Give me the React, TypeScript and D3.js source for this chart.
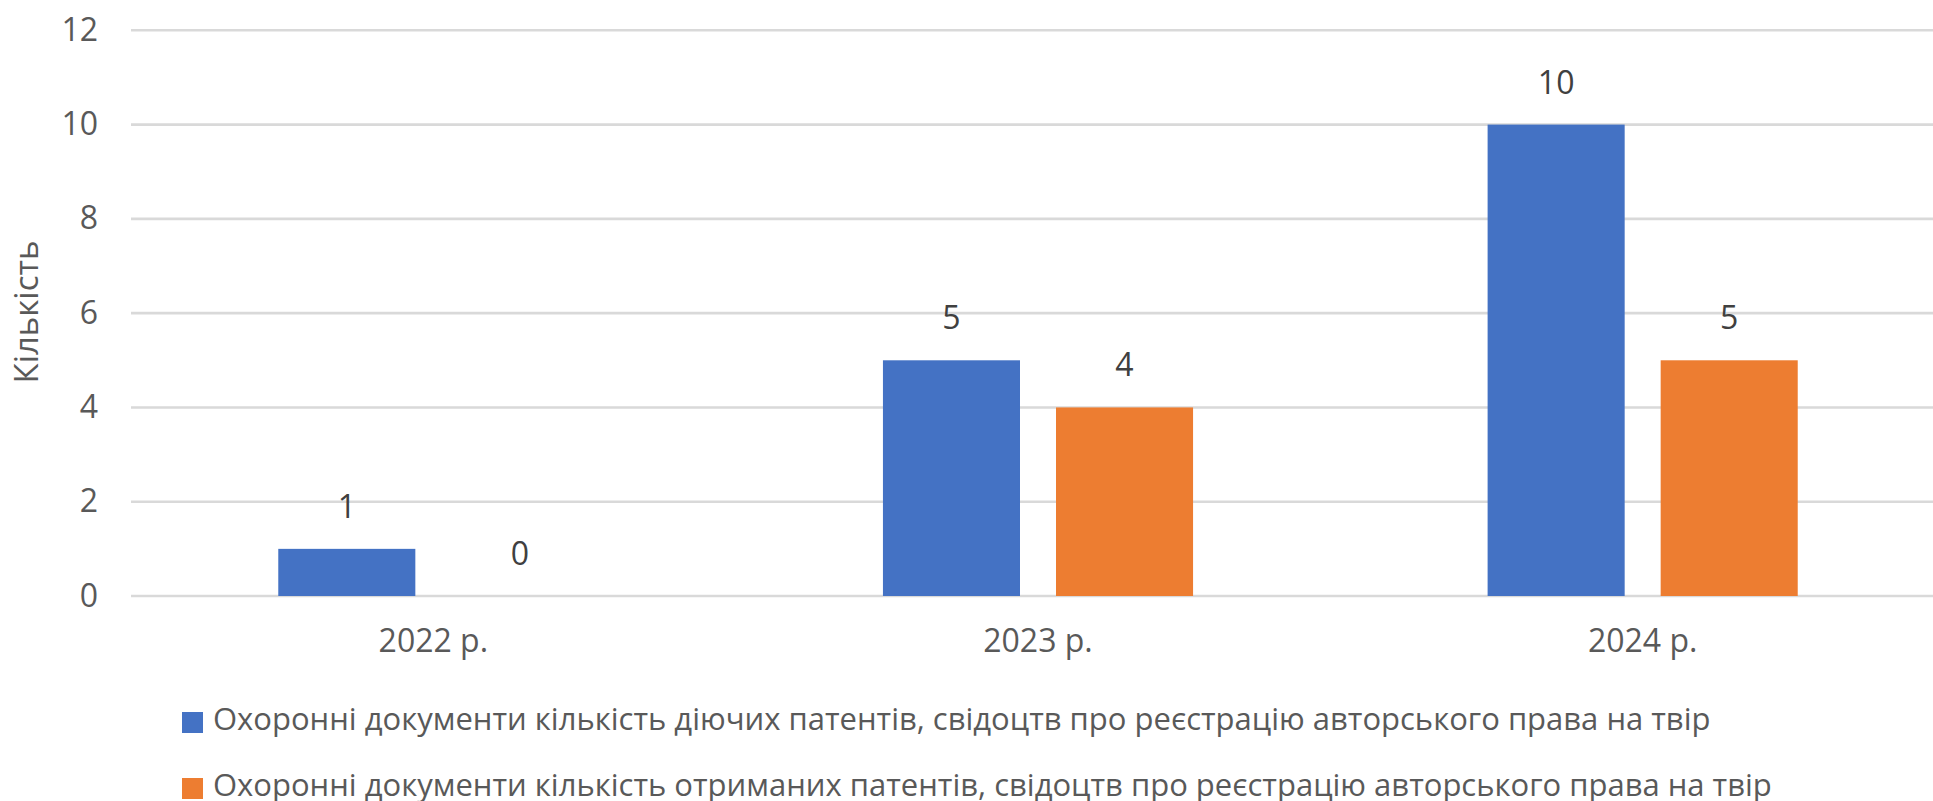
import React from "react";
import * as d3 from "d3";

const categories = ["2022 р.", "2023 р.", "2024 р."];
const seriesNames = [
  "Охоронні документи кількість діючих патентів, свідоцтв про реєстрацію авторського права на твір",
  "Охоронні документи кількість отриманих патентів, свідоцтв про реєстрацію авторського права на твір",
];
const activeValues = [1, 5, 10];
const receivedValues = [0, 4, 5];
const yTicks = [0, 2, 4, 6, 8, 10, 12];
const colors = ["#4472C4", "#ED7D31"];
const yTitle = "Кількість";

const W = 1933;
const H = 801;
const FONT = "'Open Sans', 'Noto Sans', sans-serif";

export default function App() {
  const x0 = d3.scaleBand<string>().domain(categories).range([131, 1945]).paddingInner(0).paddingOuter(0);
  const x1 = d3
    .scaleBand<number>()
    .domain([0, 1])
    .range([0, x0.bandwidth()])
    .paddingInner(0.208)
    .paddingOuter(0.851);
  const y = d3.scaleLinear().domain([0, 12]).range([596, 30.3]);
  const series = [activeValues, receivedValues];

  return (
    <svg
      width={W}
      height={H}
      style={{ position: "fixed", left: 0, top: 0, background: "#fff" }}
      fontFamily={FONT}
    >
      <rect x={0} y={0} width={W} height={H} fill="#fff" />
      {yTicks.map((t) => (
        <g key={t}>
          <line x1={131} x2={1945} y1={y(t)} y2={y(t)} stroke="#D9D9D9" strokeWidth={2.6} />
          <text x={98} y={y(t)} dy="0.33em" textAnchor="end" fontSize={32} fill="#595959">
            {t}
          </text>
        </g>
      ))}
      {categories.map((c, i) => (
        <g key={c} transform={`translate(${x0(c)},0)`}>
          {series.map((vals, s) => {
            const v = vals[i];
            const bx = x1(s)!;
            return (
              <g key={s}>
                {v > 0 && (
                  <rect x={bx} y={y(v)} width={x1.bandwidth()} height={y(0) - y(v)} fill={colors[s]} />
                )}
                <text
                  x={bx + x1.bandwidth() / 2}
                  y={y(v) - 31}
                  textAnchor="middle"
                  fontSize={32}
                  fill="#404040"
                >
                  {v}
                </text>
              </g>
            );
          })}
          <text x={x0.bandwidth() / 2} y={652} textAnchor="middle" fontSize={32} fill="#595959">
            {c}
          </text>
        </g>
      ))}
      <text
        transform={`translate(38,312) rotate(-90)`}
        textAnchor="middle"
        fontSize={33}
        fill="#595959"
      >
        {yTitle}
      </text>
      {seriesNames.map((n, s) => (
        <g key={s} transform={`translate(182,${712 + s * 66})`}>
          <rect x={0} y={0} width={21} height={21} fill={colors[s]} />
          <text x={31} y={18} fontSize={31} fill="#595959">
            {n}
          </text>
        </g>
      ))}
    </svg>
  );
}
